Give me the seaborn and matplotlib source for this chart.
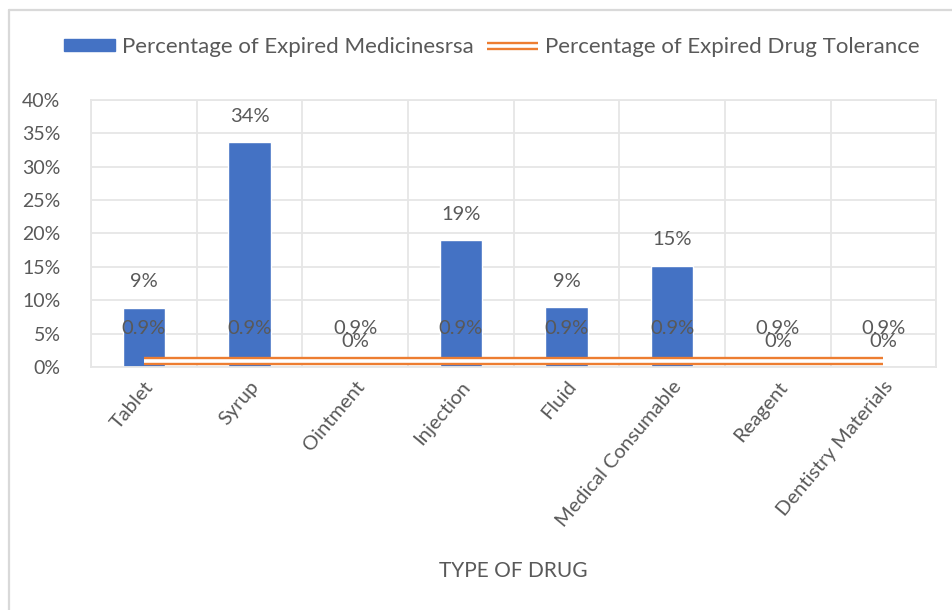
import numpy as np
import pandas as pd
import matplotlib
matplotlib.use('Agg')
import matplotlib.pyplot as plt
import matplotlib.patheffects as pe
import matplotlib.transforms as mtransforms
from matplotlib.lines import Line2D
from matplotlib.patches import Patch
from matplotlib.ticker import MultipleLocator, PercentFormatter
import seaborn as sns

# data
drug_types = ['Tablet', 'Syrup', 'Ointment', 'Injection', 'Fluid',
              'Medical Consumable', 'Reagent', 'Dentistry Materials']
expired_pct = [8.9, 33.7, 0.0, 19.0, 9.0, 15.2, 0.0, 0.0]
tolerance_pct = [0.9, 0.9, 0.9, 0.9, 0.9, 0.9, 0.9, 0.9]
bar_labels = ['9%', '34%', '0%', '19%', '9%', '15%', '0%', '0%']
line_labels = ['0.9%'] * 8

df = pd.DataFrame({'drug': drug_types, 'expired': expired_pct,
                   'tolerance': tolerance_pct})

sns.set_theme(style='white')
plt.rcParams['font.family'] = ['Lato', 'DejaVu Sans']

txt = '#595959'
blue = '#4472C4'
orange = '#ED7D31'
gridc = '#E6E6E6'

fig = plt.figure(figsize=(9.53, 6.10), dpi=100)
ax = fig.add_axes([0.0955, 0.3985, 0.887, 0.4375])

sns.barplot(data=df, x='drug', y='expired', color=blue, width=0.4,
            saturation=1, ax=ax, zorder=2)

# double line for tolerance
double = [pe.Stroke(linewidth=6.0, foreground=orange, capstyle='butt'),
          pe.Stroke(linewidth=2.6, foreground='white', capstyle='butt')]
sns.lineplot(data=df, x='drug', y='tolerance', ax=ax, color=orange,
             linewidth=6, path_effects=double, zorder=3)

for i in range(len(drug_types)):
    ax.annotate(bar_labels[i], (i, expired_pct[i]), xytext=(0, 18.5),
                textcoords='offset points', ha='center', va='center',
                fontsize=14.5, color=txt, zorder=4)
    ax.annotate(line_labels[i], (i, tolerance_pct[i]), xytext=(0, 23),
                textcoords='offset points', ha='center', va='center',
                fontsize=14.5, color=txt, zorder=4)

ax.set_ylim(0, 40)
ax.set_xlim(-0.5, len(drug_types) - 0.5)
ax.yaxis.set_major_locator(MultipleLocator(5))
ax.yaxis.set_major_formatter(PercentFormatter(decimals=0))
ax.set_xticks(np.arange(len(drug_types)))
ax.set_xticklabels(drug_types, rotation=50, ha='right', va='top',
                   rotation_mode='anchor', fontsize=14.5)
ax.set_xticks(np.arange(len(drug_types) + 1) - 0.5, minor=True)
shift = mtransforms.ScaledTranslation(-6 / 100, 0, fig.dpi_scale_trans)
for lab in ax.get_xticklabels():
    lab.set_transform(lab.get_transform() + shift)

ax.grid(True, axis='y', which='major', color=gridc, linewidth=1.3, zorder=0)
ax.grid(True, axis='x', which='minor', color=gridc, linewidth=1.3, zorder=0)
ax.set_axisbelow(True)
for s in ax.spines.values():
    s.set_color(gridc)
    s.set_linewidth(1.3)

ax.tick_params(axis='both', which='both', length=0, labelsize=14,
               labelcolor=txt)
ax.tick_params(axis='x', labelsize=14.5)
ax.tick_params(axis='y', pad=22)
ax.tick_params(axis='x', pad=8)
ax.set_xlabel('TYPE OF DRUG', fontsize=15, color=txt, labelpad=22)
ax.set_ylabel('')

handles = [Patch(facecolor=blue, edgecolor=blue),
           Line2D([0], [0], color=orange, linewidth=6, path_effects=double)]
fig.legend(handles, ['Percentage of Expired Medicinesrsa',
                     'Percentage of Expired Drug Tolerance'],
           loc='center', bbox_to_anchor=(0.516, 0.923), ncol=2, frameon=False,
           fontsize=16, labelcolor=txt, handlelength=2.3, handleheight=0.5,
           handletextpad=0.3, columnspacing=0.6)

# chart border (top and left visible)
fig.add_artist(Line2D([0.0095, 0.999], [0.984, 0.984], color='#D9D9D9',
                      linewidth=1.6, transform=fig.transFigure))
fig.add_artist(Line2D([0.0095, 0.0095], [0.0, 0.984], color='#D9D9D9',
                      linewidth=1.6, transform=fig.transFigure))

fig.savefig('out.png', dpi=100, facecolor='white')
